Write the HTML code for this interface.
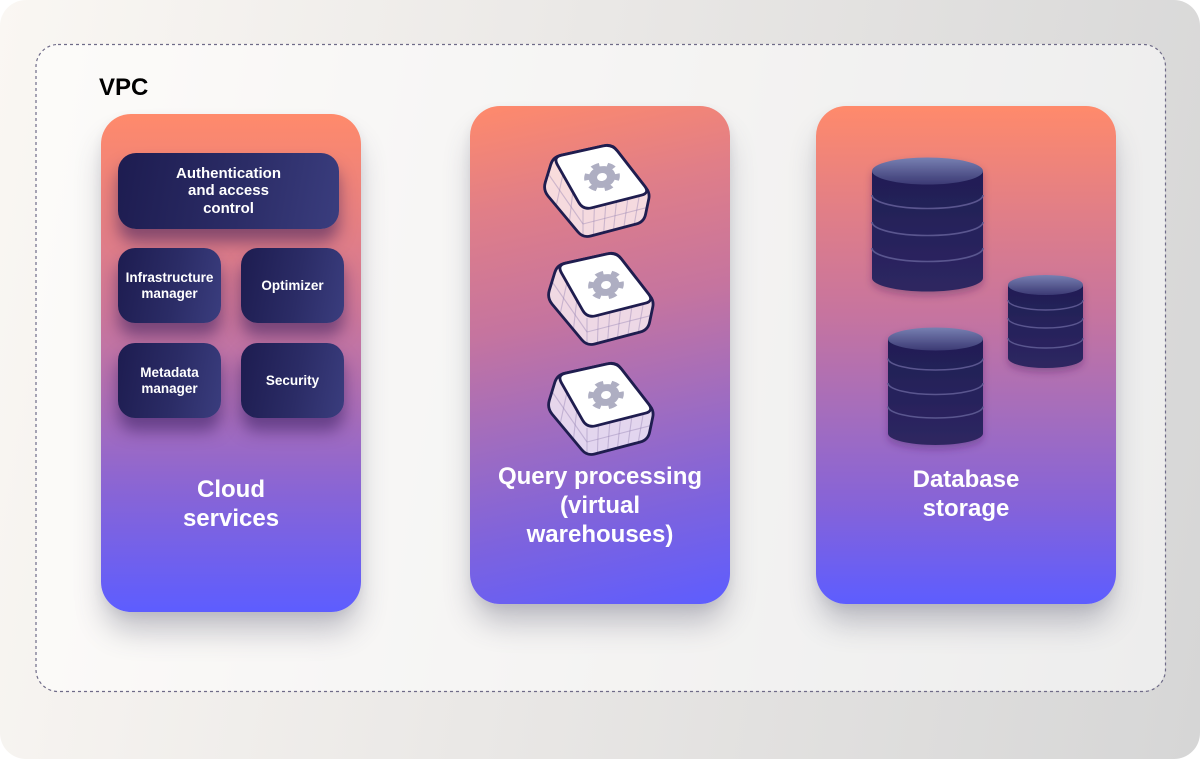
<!DOCTYPE html>
<html>
<head>
<meta charset="utf-8">
<style>
  html,body{margin:0;padding:0;background:#fff;}
  body{width:1200px;height:759px;position:relative;overflow:hidden;font-family:"Liberation Sans",Arial,sans-serif;}
  .bg{position:absolute;left:0;top:0;width:1200px;height:759px;border-radius:26px;
      background:linear-gradient(100deg,#faf7f3 0%,#eae8e6 45%,#d6d6d6 100%);}
  .vpcfill{position:absolute;left:36px;top:44px;width:1129px;height:647px;border-radius:22px;
      background:rgba(255,255,255,0.55);}
  .panel{position:absolute;border-radius:30px;box-shadow:0 22px 30px -4px rgba(70,70,95,0.32),0 4px 10px rgba(70,70,95,0.08);}
  .p1{left:101px;top:114px;width:260px;height:498px;
      background:linear-gradient(180deg,#ff8a6b 0%,#e57f83 22%,#cd779a 40%,#a86db9 60%,#8a65d4 75%,#5d5dff 100%);}
  .p2{left:470px;top:106px;width:260px;height:498px;
      background:linear-gradient(168deg,#ff8a6b 0%,#e07e88 20%,#c5749f 42%,#9f6cc0 62%,#7e63dd 80%,#5d5dff 100%);}
  .p3{left:816px;top:106px;width:300px;height:498px;
      background:linear-gradient(180deg,#ff8a6b 0%,#e07e88 22%,#c6749f 42%,#a46dbd 62%,#8663d8 80%,#5d5dff 100%);}
  .box{position:absolute;border-radius:18px;background:linear-gradient(100deg,#1d1c50 0%,#2b2c66 55%,#3a3d7e 100%);
      box-shadow:0 13px 16px rgba(40,20,85,0.5);color:#fff;font-weight:bold;display:flex;align-items:center;justify-content:center;text-align:center;}
  .big{font-size:15px;line-height:17.5px;}
  .sm{font-size:13.5px;line-height:16px;}
  .label{position:absolute;color:#fff;font-weight:bold;font-size:24px;line-height:29px;text-align:center;}
  .vpc{position:absolute;left:99px;top:73.5px;font-size:24px;font-weight:bold;color:#000;line-height:28px;}
  svg{position:absolute;left:0;top:0;}
</style>
</head>
<body>
<div class="bg"></div>
<div class="vpcfill"></div>
<svg width="1200" height="759" viewBox="0 0 1200 759">
  <rect x="36" y="44.5" width="1129.5" height="647" rx="22" ry="22" fill="none" stroke="#6f6b88" stroke-width="1.2" stroke-dasharray="3 3"/>
</svg>
<div class="vpc">VPC</div>

<div class="panel p1"></div>
<div class="panel p2"></div>
<div class="panel p3"></div>

<div class="box big" style="left:118px;top:153px;width:221px;height:76px;">Authentication<br>and access<br>control</div>
<div class="box sm" style="left:118px;top:248px;width:103px;height:75px;border-radius:17px;">Infrastructure<br>manager</div>
<div class="box sm" style="left:241px;top:248px;width:103px;height:75px;border-radius:17px;">Optimizer</div>
<div class="box sm" style="left:118px;top:343px;width:103px;height:75px;border-radius:17px;">Metadata<br>manager</div>
<div class="box sm" style="left:241px;top:343px;width:103px;height:75px;border-radius:17px;">Security</div>

<svg width="1200" height="759" viewBox="0 0 1200 759">
  <defs>
    <linearGradient id="topg" x1="0" y1="0" x2="0" y2="1">
      <stop offset="0" stop-color="#7780b2"/>
      <stop offset="1" stop-color="#3c3a74"/>
    </linearGradient>
    <linearGradient id="bodyg" x1="0" y1="0" x2="0" y2="1">
      <stop offset="0" stop-color="#1f1e55"/>
      <stop offset="1" stop-color="#2e2661"/>
    </linearGradient>
    <filter id="sh" x="-20%" y="-20%" width="140%" height="150%">
      <feDropShadow dx="0" dy="4" stdDeviation="4" flood-color="#3a1f5a" flood-opacity="0.35"/>
    </filter>
    <g id="cube">
      <path d="M19.8,13.3 L63.2,3.7 Q71,2 75.9,8.3 L105.3,46.3 Q109,51 107.8,56.9 L104.6,72.2 Q103,80 95.3,82 L49.7,94 Q42,96 36.9,89.9 L7.1,54.1 Q2,48 4.3,40.3 L9.7,22.7 Q12,15 19.8,13.3 Z" fill="#ffffff" fill-opacity="0.72"/>
      <g stroke="#8f7cb0" stroke-opacity="0.4" stroke-width="1.1" fill="none">
        <path d="M42,82 L106,65.5"/>
        <path d="M53.4,65.1 L52.4,93.3 M64.8,62.2 L62.7,90.6 M75.5,59.5 L72.5,88 M86.9,56.6 L82.9,85.3 M98.3,53.7 L93.2,82.6"/>
        <path d="M7,31.5 L42,82"/>
        <path d="M21.9,32.5 L15.2,63.8 M31.8,50 L28.4,79.7"/>
        <path d="M42,68 L42,96"/>
      </g>
      <path d="M19.8,13.3 L63.2,3.7 Q71,2 75.9,8.3 L105.3,46.3 Q109,51 107.8,56.9 L104.6,72.2 Q103,80 95.3,82 L49.7,94 Q42,96 36.9,89.9 L7.1,54.1 Q2,48 4.3,40.3 L9.7,22.7 Q12,15 19.8,13.3 Z" fill="none" stroke="#1f1d4f" stroke-width="2.8" stroke-linejoin="round"/>
      <path d="M20.8,13.1 L62.2,3.9 Q71,2 76.5,9.1 L103.5,43.9 Q109,51 100.3,53.2 L50.7,65.8 Q42,68 37.6,60.2 L16.4,22.8 Q12,15 20.8,13.1 Z" fill="#ffffff" stroke="#1f1d4f" stroke-width="2.8" stroke-linejoin="round"/>
      <g transform="translate(61,35) rotate(-12) scale(1,0.8)">
        <circle r="13.5" fill="#aeaec2"/>
        <circle r="15.5" fill="none" stroke="#aeaec2" stroke-width="5" stroke-dasharray="8 8.2"/>
        <circle r="5" fill="#ffffff"/>
      </g>
    </g>
  </defs>

  <use href="#cube" transform="translate(541,142)"/>
  <use href="#cube" transform="translate(545,250)"/>
  <use href="#cube" transform="translate(545,360)"/>

  <!-- cylinder 1 -->
  <g filter="url(#sh)">
    <path d="M872,171 L872,278 A55.5,13.5 0 0 0 983,278 L983,171 Z" fill="url(#bodyg)"/>
    <g fill="none" stroke="#5a568f" stroke-width="1.6">
      <path d="M872,195 A55.5,13.5 0 0 0 983,195"/>
      <path d="M872,222 A55.5,13.5 0 0 0 983,222"/>
      <path d="M872,248 A55.5,13.5 0 0 0 983,248"/>
    </g>
    <ellipse cx="927.5" cy="171" rx="55.5" ry="13.5" fill="url(#topg)"/>
  </g>
  <!-- cylinder 2 small -->
  <g filter="url(#sh)">
    <path d="M1008,285 L1008,358 A37.5,10 0 0 0 1083,358 L1083,285 Z" fill="url(#bodyg)"/>
    <g fill="none" stroke="#5a568f" stroke-width="1.4">
      <path d="M1008,300 A37.5,10 0 0 0 1083,300"/>
      <path d="M1008,318 A37.5,10 0 0 0 1083,318"/>
      <path d="M1008,338 A37.5,10 0 0 0 1083,338"/>
    </g>
    <ellipse cx="1045.5" cy="285" rx="37.5" ry="10" fill="url(#topg)"/>
  </g>
  <!-- cylinder 3 -->
  <g filter="url(#sh)">
    <path d="M888,339 L888,433.5 A47.5,11.5 0 0 0 983,433.5 L983,339 Z" fill="url(#bodyg)"/>
    <g fill="none" stroke="#5a568f" stroke-width="1.5">
      <path d="M888,358.5 A47.5,11.5 0 0 0 983,358.5"/>
      <path d="M888,383 A47.5,11.5 0 0 0 983,383"/>
      <path d="M888,406.5 A47.5,11.5 0 0 0 983,406.5"/>
    </g>
    <ellipse cx="935.5" cy="339" rx="47.5" ry="11.5" fill="url(#topg)"/>
  </g>
</svg>

<div class="label" style="left:101px;top:475px;width:260px;">Cloud<br>services</div>
<div class="label" style="left:470px;top:462px;width:260px;">Query processing<br>(virtual<br>warehouses)</div>
<div class="label" style="left:816px;top:465px;width:300px;">Database<br>storage</div>
</body>
</html>
